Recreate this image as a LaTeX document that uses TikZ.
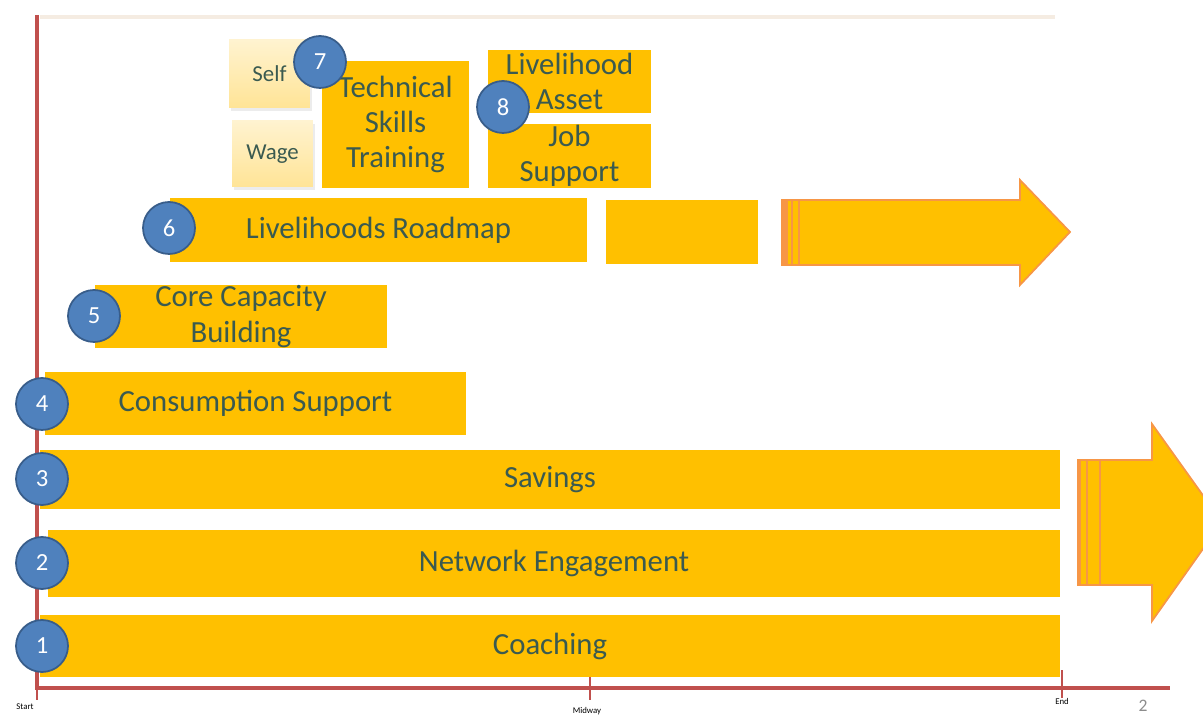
\documentclass[tikz,border=0pt]{standalone}
\usepackage{fontspec}
\setmainfont{Carlito}
\usetikzlibrary{shadows}
\definecolor{barfill}{RGB}{255,192,0}
\definecolor{bartext}{RGB}{58,90,80}
\definecolor{dotfill}{RGB}{79,129,189}
\definecolor{dotline}{RGB}{56,93,138}
\definecolor{axisred}{RGB}{192,80,77}
\definecolor{arrowline}{RGB}{247,150,70}
\definecolor{paleyellow}{RGB}{255,228,150}
\begin{document}
\begin{tikzpicture}[x=0.02cm,y=-0.02cm,
    bar/.style={rectangle, fill=barfill, inner sep=0pt, text=bartext, align=center, font=\fontsize{17.5}{20}\selectfont},
    num/.style={circle, fill=dotfill, draw=dotline, line width=1pt, minimum size=1.04cm, inner sep=0pt, text=white, font=\fontsize{14}{16}\selectfont},
    kind/.style={rectangle, top color=paleyellow!45, bottom color=paleyellow, inner sep=0pt, text=bartext, drop shadow={opacity=0.15, shadow xshift=1pt, shadow yshift=-1.5pt}, font=\fontsize{13}{15}\selectfont},
    bigarrow/.style={fill=barfill, draw=arrowline, line width=1pt},
    stripe/.style={arrowline, line width=1.2pt},
    tick/.style={axisred, line width=0.6pt},
    axislabel/.style={inner sep=0pt, font=\fontsize{5}{6}\selectfont}]
    \useasboundingbox (0,0) rectangle (1203,715);
    \draw[color=brown!15, line width=2pt] (40,17)--(1055,17);
    \coordinate (ytop) at (37,15);
    \coordinate (origin) at (37,688);
    \coordinate (xend) at (1170,688);
    \draw[axisred, line width=2.3pt] (ytop)--(origin)--(xend);
    \draw[tick] (origin)--(37,700);
    \draw[tick] (590,672)--(590,700);
    \draw[tick] (1062,670)--(1062,698);
    \node[axislabel] (start) at (25,707) {Start};
    \node[axislabel] (mid) at (587,711) {Midway};
    \node[axislabel] (end) at (1062,701) {End};
    \node[inner sep=0pt, text=black!45, font=\fontsize{10}{12}\selectfont] (page) at (1143,706) {2};
    \node[bar, minimum width=20.4cm, minimum height=1.24cm] (coaching) at (550,646) {Coaching};
    \node[bar, minimum width=20.24cm, minimum height=1.34cm] (network) at (554,563.5) {Network Engagement};
    \node[bar, minimum width=20.4cm, minimum height=1.18cm] (savings) at (550,479.5) {Savings};
    \node[bar, minimum width=8.42cm, minimum height=1.26cm] (consumption) at (255.5,403.5) {Consumption Support};
    \node[bar, minimum width=5.84cm, minimum height=1.26cm] (core) at (241,316.5) {Core Capacity\\Building};
    \node[bar, minimum width=8.34cm, minimum height=1.28cm] (roadmap) at (378.5,230) {Livelihoods Roadmap};
    \node[bar, minimum width=3.04cm, minimum height=1.28cm] (blank) at (682,232) {};
    \node[bar, minimum width=2.94cm, minimum height=2.54cm] (technical) at (395.5,124.5) {Technical\\Skills\\Training};
    \node[bar, minimum width=3.26cm, minimum height=1.26cm] (asset) at (569.5,81.5) {Livelihood\\Asset};
    \node[bar, minimum width=3.26cm, minimum height=1.28cm] (job) at (569.5,156) {Job\\Support};
    \node[kind, minimum width=1.62cm, minimum height=1.36cm] (self) at (269.5,74) {Self};
    \node[kind, minimum width=1.62cm, minimum height=1.32cm] (wage) at (272.5,154) {Wage};
    \draw[bigarrow] (782,200)--(1020,200)--(1020,180)--(1070,232)--(1020,285)--(1020,265)--(782,265)--cycle;
    \fill[arrowline] (782,200) rectangle (788,265);
    \draw[stripe] (792,200)--(792,265);
    \draw[stripe] (799,200)--(799,265);
    \begin{scope}
        \clip (0,0) rectangle (1203,715);
        \draw[bigarrow] (1078,460)--(1152,460)--(1152,424)--(1222,522)--(1152,621)--(1152,585)--(1078,585)--cycle;
        \draw[stripe] (1080,460)--(1080,585);
        \draw[stripe] (1087,460)--(1087,585);
        \draw[stripe] (1100,460)--(1100,585);
    \end{scope}
    \node[num] (n1) at (42,646) {1};
    \node[num] (n2) at (42,563) {2};
    \node[num] (n3) at (42,479) {3};
    \node[num] (n4) at (42,404) {4};
    \node[num] (n5) at (94,316) {5};
    \node[num] (n6) at (169,228) {6};
    \node[num] (n7) at (320,62) {7};
    \node[num] (n8) at (503,107) {8};
\end{tikzpicture}
\end{document}
